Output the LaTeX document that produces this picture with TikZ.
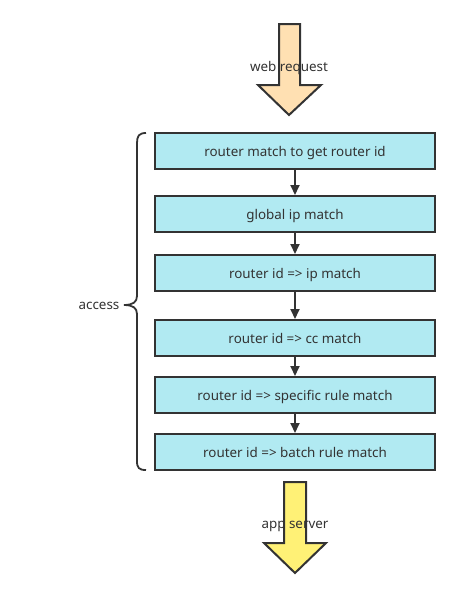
\documentclass[tikz,border=0pt]{standalone}
\usepackage{fontspec}
\setmainfont{Noto Sans}
\usetikzlibrary{arrows.meta}
\definecolor{boxfill}{HTML}{B1EAF2}
\definecolor{linegray}{HTML}{333333}
\definecolor{peach}{HTML}{FFE0B2}
\definecolor{lemon}{HTML}{FFF176}
\tikzset{
	stagebox/.style={draw=linegray, line width=2pt, fill=boxfill, minimum width=280pt, minimum height=36pt, inner sep=0pt, text=linegray, text height=13pt, text depth=2pt, font=\fontsize{13.4}{15}\selectfont},
	flow/.style={-{Triangle[length=10pt,width=9pt]}, line width=1.8pt, draw=linegray},
	bigarrow/.style={draw=linegray, line width=2pt, line join=miter},
	tag/.style={text=linegray, font=\fontsize{13.4}{15}\selectfont, inner sep=0pt}
}
\begin{document}
\begin{tikzpicture}[x=1pt, y=-1pt]
	\useasboundingbox (0,0) rectangle (460,598);
	
	% Draw incoming arrow
	\draw[bigarrow, fill=peach] (279,24) -- (300,24) -- (300,85) -- (321,85) -- (289,115) -- (258,85) -- (279,85) -- cycle;
	\node[tag] (web) at (289,68) {web request};
	
	% Draw stages
	\node[stagebox] (route) at (295,151) {router match to get router id};
	\node[stagebox] (gip) at (295,214) {global ip match};
	\node[stagebox] (rip) at (295,273) {router id => ip match};
	\node[stagebox] (rcc) at (295,338) {router id => cc match};
	\node[stagebox] (rspec) at (295,395) {router id => specific rule match};
	\node[stagebox] (rbatch) at (295,452) {router id => batch rule match};
	
	% Connect stages
	\foreach \a/\b in {route/gip, gip/rip, rip/rcc, rcc/rspec, rspec/rbatch}
		\draw[flow] (\a) -- (\b);
	
	% Draw brace
	\draw[line width=1.8pt, draw=linegray] (146,133) .. controls (139,133) and (137,136) .. (137,143) -- (137,296) .. controls (137,302) and (133,305) .. (124,305) .. controls (133,305) and (137,308) .. (137,314) -- (137,461) .. controls (137,468) and (139,470) .. (146,470);
	\node[tag] (access) at (99,306) {access};
	
	% Draw outgoing arrow
	\draw[bigarrow, fill=lemon] (284,482) -- (306,482) -- (306,543) -- (326,543) -- (295,573) -- (264,543) -- (284,543) -- cycle;
	\node[tag] (app) at (295,526) {app server};
\end{tikzpicture}
\end{document}
